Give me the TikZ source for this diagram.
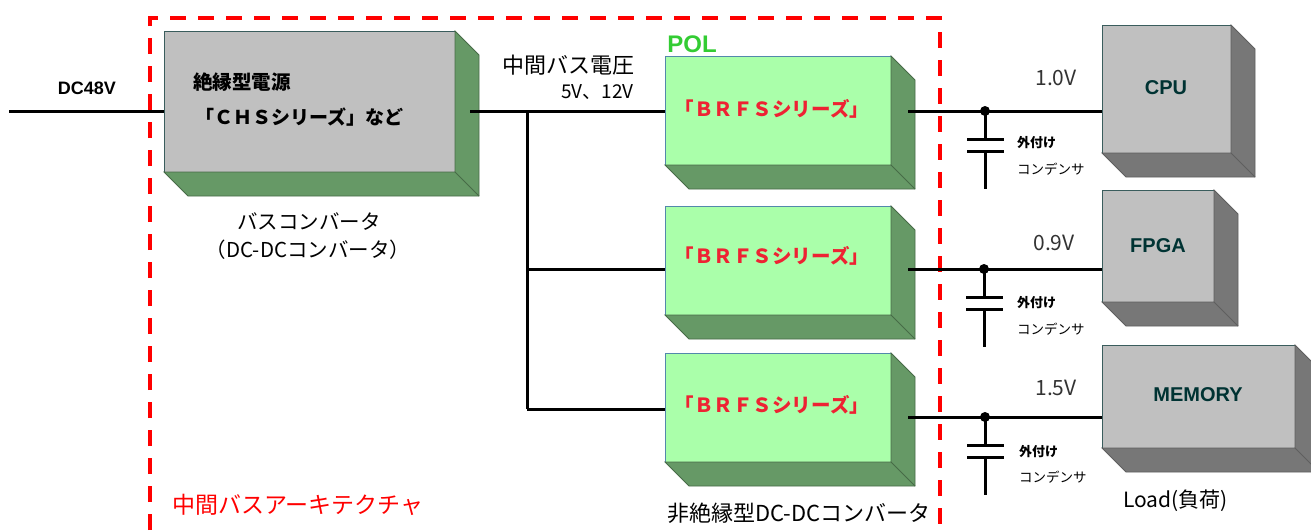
\documentclass[tikz,border=0pt]{standalone}
\usepackage{fontspec}
\setmainfont{Noto Sans CJK JP}
\newfontfamily\arialfont{Liberation Sans}
\usetikzlibrary{calc}
\definecolor{frontgray}{HTML}{C0C0C0}
\definecolor{frontgreen}{HTML}{AAFFAA}
\definecolor{sidegreen}{HTML}{669966}
\definecolor{sidegray}{HTML}{777777}
\definecolor{tealtext}{HTML}{003333}
\definecolor{poltext}{HTML}{33CC33}
\definecolor{brfstext}{HTML}{EE2233}
\definecolor{volttext}{HTML}{333333}
\tikzset{
    wire/.style={line width=3pt},
    lab/.style={inner sep=0pt, font=\fontsize{#1}{#1}\selectfont},
    blab/.style={inner sep=0pt, font=\arialfont\bfseries\fontsize{#1}{#1}\selectfont},
    jlab/.style={inner sep=0pt, font=\bfseries\fontsize{#1}{#1}\selectfont},
    graybox/.style={draw=tealtext!70!frontgray, line width=1pt, fill=frontgray, outer sep=0pt, inner sep=0pt, minimum width=#1},
    greenbox/.style={draw=tealtext!30!frontgreen!70!blue, line width=1pt, fill=frontgreen, outer sep=0pt, inner sep=0pt, minimum width=#1},
    greenside/.style={draw=sidegreen!70!black, line width=0.8pt, fill=sidegreen},
    grayside/.style={draw=sidegray!80!black, line width=0.8pt, fill=sidegray},
}

\begin{document}
\begin{tikzpicture}[x=1pt,y=-1pt]
\useasboundingbox (0,0) rectangle (1311,530);

% architecture frame
\draw[red, line width=4pt, dash pattern=on 16pt off 12pt] (150,530)--(150,18)--(940,18)--(940,530);

% front faces
\node[graybox=291pt, minimum height=141pt] (chs) at (309.5,101.5) {};
\node[greenbox=226pt, minimum height=109pt] (pola) at (778,110.5) {};
\node[greenbox=226pt, minimum height=109pt] (polb) at (778,260.5) {};
\node[greenbox=226pt, minimum height=109pt] (polc) at (778,407.5) {};
\node[graybox=129pt, minimum height=128pt] (cpu) at (1166.5,89) {};
\node[graybox=112pt, minimum height=112pt] (fpga) at (1158,246) {};
\node[graybox=193pt, minimum height=103pt] (memory) at (1198.5,396.5) {};

% side faces
\foreach \n/\s in {chs/greenside,pola/greenside,polb/greenside,polc/greenside,cpu/grayside,fpga/grayside,memory/grayside}{
    \draw[\s] (\n.north east) -- ($(\n.north east)+(24,24)$) -- ($(\n.south east)+(24,24)$) -- ($(\n.south west)+(24,24)$) -- (\n.south west) -- (\n.south east) -- cycle;
    \draw[\s] (\n.south east) -- ($(\n.south east)+(24,24)$);
}

% wires
\coordinate (dcin) at (9,111);
\coordinate (chsout) at (470,111);
\coordinate (busa) at (527,111);
\coordinate (busb) at (527,269);
\coordinate (busc) at (527,409);
\coordinate (polaout) at (908,111);
\coordinate (polbout) at (908,269);
\coordinate (polcout) at (908,417);
\coordinate (capa) at (985,111);
\coordinate (capb) at (984,269);
\coordinate (capc) at (985,417);

\draw[wire] (dcin) -- (dcin -| chs.west);
\draw[wire] (chsout) -- (chsout -| pola.west);
\draw[wire] (busa) -- (busc);
\draw[wire] (busb) -- (busb -| polb.west);
\draw[wire] (busc) -- (busc -| polc.west);
\draw[wire] (polaout) -- (polaout -| cpu.west);
\draw[wire] (polbout) -- (polbout -| fpga.west);
\draw[wire] (polcout) -- (polcout -| memory.west);

% capacitors
\foreach \n in {capa,capb,capc}{
    \fill (\n) circle (5pt);
    \draw[wire] (\n) -- ++(0,28);
    \draw[wire] ($(\n)+(-18,28)$) -- ($(\n)+(19,28)$);
    \draw[wire] ($(\n)+(-18,40)$) -- ($(\n)+(19,40)$);
    \draw[wire] ($(\n)+(0,40)$) -- ($(\n)+(0,78)$);
}

% labels
\node[blab=18] (dclabel) at (87,88) {DC48V};
\node[jlab=19.5, anchor=west] (chstitle) at (193,82) {絶縁型電源};
\node[jlab=19, anchor=west] (chsname) at (195,117) {「ＣＨＳシリーズ」など};
\node[lab=20.5] (buslabel) at (309,222) {バスコンバータ};
\node[lab=20.5] (dclabelb) at (308,250) {（DC-DCコンバータ）};
\node[lab=22, anchor=west] (midlabel) at (502,65) {中間バス電圧};
\node[lab=19, anchor=east] (midvolt) at (634,92) {5V、12V};
\node[blab=24, text=poltext] (pollabel) at (692,44) {POL};
\node[jlab=19.5, text=brfstext] (brfsa) at (772,109) {「ＢＲＦＳシリーズ」};
\node[jlab=19.5, text=brfstext] (brfsb) at (772,256) {「ＢＲＦＳシリーズ」};
\node[jlab=19.5, text=brfstext] (brfsc) at (772,405) {「ＢＲＦＳシリーズ」};
\node[lab=22, anchor=west] (nonlabel) at (667,513) {非絶縁型DC-DCコンバータ};
\node[lab=23, anchor=west, text=red] (archlabel) at (172,505) {中間バスアーキテクチャ};
\node[lab=21, text=volttext] (volta) at (1056,78) {1.0V};
\node[lab=21, text=volttext] (voltb) at (1054,243) {0.9V};
\node[lab=21, text=volttext] (voltc) at (1056,388) {1.5V};
\node[blab=20, text=tealtext] (cpulabel) at (1166,88) {CPU};
\node[blab=20, text=tealtext] (fpgalabel) at (1158,246) {FPGA};
\node[blab=20, text=tealtext] (memlabel) at (1198,395) {MEMORY};
\node[jlab=13, anchor=west] (capta) at (1017,143) {外付け};
\node[lab=13.5, anchor=west] (captb) at (1017,169) {コンデンサ};
\node[jlab=13, anchor=west] (capua) at (1017,303) {外付け};
\node[lab=13.5, anchor=west] (capub) at (1017,329) {コンデンサ};
\node[jlab=13, anchor=west] (capva) at (1019,452) {外付け};
\node[lab=13.5, anchor=west] (capvb) at (1019,477) {コンデンサ};
\node[lab=21, anchor=west] (loadlabel) at (1123,501) {Load(負荷)};
\end{tikzpicture}
\end{document}
